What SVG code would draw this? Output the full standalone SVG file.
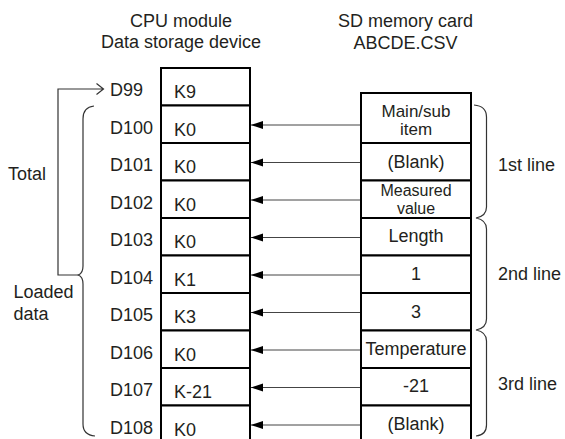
<svg xmlns="http://www.w3.org/2000/svg" width="565" height="439" viewBox="0 0 565 439">
<style>
text{font-family:"Liberation Sans",Arial,sans-serif;font-size:18px;fill:#231f20}
.c{text-anchor:middle}
.t{font-size:17px}
.m{font-size:16px}
.cell{fill:#fff;stroke:#000;stroke-width:2}
.ar{stroke:#444;stroke-width:1;fill:none}
.br{stroke:#333;stroke-width:1.2;fill:none}
</style>
<defs>
<marker id="ah" markerUnits="userSpaceOnUse" markerWidth="13" markerHeight="9" refX="12" refY="4" orient="auto">
<path d="M0,0 L12,4 L0,8 Z" fill="#000"/>
</marker>
</defs>
<rect width="565" height="439" fill="#fff"/>
<g id="header-cpu">
<text class="c" x="181" y="27">CPU module</text>
<text class="c" x="181" y="48">Data storage device</text>
</g>
<g id="header-sd">
<text class="c" x="405.5" y="27">SD memory card</text>
<text class="c" x="405.5" y="49">ABCDE.CSV</text>
</g>
<g id="cpu-D99"><rect class="cell" x="161" y="68" width="89" height="37.5"/><text x="110" y="96">D99</text><text x="174" y="98">K9</text></g>
<g id="cpu-D100"><rect class="cell" x="161" y="105.5" width="89" height="37.5"/><text x="110" y="133.5">D100</text><text x="174" y="135.5">K0</text></g>
<g id="cpu-D101"><rect class="cell" x="161" y="143" width="89" height="37.5"/><text x="110" y="171">D101</text><text x="174" y="173">K0</text></g>
<g id="cpu-D102"><rect class="cell" x="161" y="180.5" width="89" height="37.5"/><text x="110" y="208.5">D102</text><text x="174" y="210.5">K0</text></g>
<g id="cpu-D103"><rect class="cell" x="161" y="218" width="89" height="37.5"/><text x="110" y="246">D103</text><text x="174" y="248">K0</text></g>
<g id="cpu-D104"><rect class="cell" x="161" y="255.5" width="89" height="37.5"/><text x="110" y="283.5">D104</text><text x="174" y="285.5">K1</text></g>
<g id="cpu-D105"><rect class="cell" x="161" y="293" width="89" height="37.5"/><text x="110" y="321">D105</text><text x="174" y="323">K3</text></g>
<g id="cpu-D106"><rect class="cell" x="161" y="330.5" width="89" height="37.5"/><text x="110" y="358.5">D106</text><text x="174" y="360.5">K0</text></g>
<g id="cpu-D107"><rect class="cell" x="161" y="368" width="89" height="37.5"/><text x="110" y="396">D107</text><text x="174" y="398">K-21</text></g>
<g id="cpu-D108"><rect class="cell" x="161" y="405.5" width="89" height="37.5"/><text x="110" y="433.5">D108</text><text x="174" y="435.5">K0</text></g>
<g id="sd-mainsub"><rect class="cell" x="361" y="93" width="110" height="50"/><text class="c t" x="416" y="117">Main/sub</text><text class="c t" x="416" y="135">item</text></g>
<g id="sd-blank1"><rect class="cell" x="361" y="143" width="110" height="37.5"/><text class="c" x="416" y="168">(Blank)</text></g>
<g id="sd-measured"><rect class="cell" x="361" y="180.5" width="110" height="37.5"/><text class="c m" x="416" y="196">Measured</text><text class="c m" x="416" y="214">value</text></g>
<g id="sd-length"><rect class="cell" x="361" y="218" width="110" height="37.5"/><text class="c" x="416" y="242">Length</text></g>
<g id="sd-1"><rect class="cell" x="361" y="255.5" width="110" height="37.5"/><text class="c" x="416" y="280">1</text></g>
<g id="sd-3"><rect class="cell" x="361" y="293" width="110" height="37.5"/><text class="c" x="416" y="318">3</text></g>
<g id="sd-temp"><rect class="cell" x="361" y="330.5" width="110" height="37.5"/><text class="c" x="416" y="355">Temperature</text></g>
<g id="sd-m21"><rect class="cell" x="361" y="368" width="110" height="37.5"/><text class="c" x="416" y="392">-21</text></g>
<g id="sd-blank2"><rect class="cell" x="361" y="405.5" width="110" height="37.5"/><text class="c" x="416" y="430">(Blank)</text></g>
<g id="connectors">
<line class="ar" x1="360" y1="125" x2="251" y2="125" marker-end="url(#ah)"/>
<line class="ar" x1="360" y1="162.5" x2="251" y2="162.5" marker-end="url(#ah)"/>
<line class="ar" x1="360" y1="200" x2="251" y2="200" marker-end="url(#ah)"/>
<line class="ar" x1="360" y1="237.5" x2="251" y2="237.5" marker-end="url(#ah)"/>
<line class="ar" x1="360" y1="275" x2="251" y2="275" marker-end="url(#ah)"/>
<line class="ar" x1="360" y1="312.5" x2="251" y2="312.5" marker-end="url(#ah)"/>
<line class="ar" x1="360" y1="350" x2="251" y2="350" marker-end="url(#ah)"/>
<line class="ar" x1="360" y1="387.5" x2="251" y2="387.5" marker-end="url(#ah)"/>
<line class="ar" x1="360" y1="425" x2="251" y2="425" marker-end="url(#ah)"/>
<path class="br" d="M79 275 H58 V89 H103 M96.5 83.5 L103.5 89 L96.5 94.5"/>
</g>
<g id="brace-loaded">
<path class="br" d="M94 106 Q83 107 83 119 V266 Q83 273 78.5 275 Q83 277 83 284 V424 Q83 435 95 436"/>
<text x="8" y="180">Total</text>
<text x="13.5" y="298">Loaded</text>
<text x="13.5" y="320">data</text>
</g>
<g id="brace-lines">
<path class="br" d="M474 105 Q486.5 106 486.5 117 V207 Q486.5 216 476 218 Q486.5 220 486.5 229 V319 Q486.5 328 476 330 Q486.5 332 486.5 341 V425 Q486.5 435 476 436"/>
<text x="498" y="171">1st line</text>
<text x="498" y="280">2nd line</text>
<text x="498" y="390">3rd line</text>
</g>
</svg>
